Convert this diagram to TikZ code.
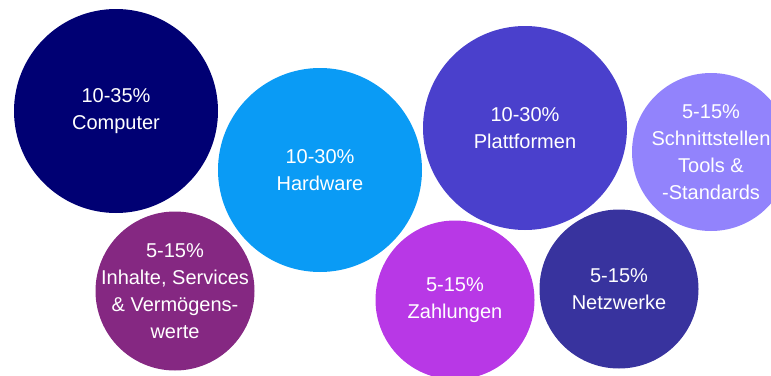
\documentclass[tikz,border=0pt]{standalone}
\usepackage{fontspec}
\setmainfont{Liberation Sans}
\usepackage{tikz}

\definecolor{navy}{HTML}{000073}
\definecolor{sky}{HTML}{0A9BF5}
\definecolor{violet}{HTML}{4A40CC}
\definecolor{lavender}{HTML}{9283FC}
\definecolor{plum}{HTML}{852882}
\definecolor{orchid}{HTML}{B838E6}
\definecolor{indigo}{HTML}{38339E}

\begin{document}
\begin{tikzpicture}[x=1pt, y=-1pt,
    bubble/.style = {circle, inner sep=-30pt, text=white, align=center,
      font=\fontsize{20}{27}\selectfont}]
    \useasboundingbox (0,0) rectangle (771,375);
    \clip (0,0) rectangle (771,375);
    \node[bubble, fill=navy, minimum size=204pt] (comp) at (116,111) {10-35\%\\Computer};
    \node[bubble, fill=sky, minimum size=204pt] (hw) at (320,170) {10-30\%\\Hardware};
    \node[bubble, fill=violet, minimum size=204pt] (plat) at (525,128) {10-30\%\\Plattformen};
    \node[bubble, fill=lavender, minimum size=158pt] (api) at (711,152) {5-15\%\\Schnittstellen\\Tools \&\\-Standards};
    \node[bubble, fill=plum, minimum size=159pt] (content) at (175,291) {5-15\%\\Inhalte, Services\\\& Vermögens-\\werte};
    \node[bubble, fill=orchid, minimum size=159pt] (pay) at (455,300) {5-15\%\\Zahlungen};
    \node[bubble, fill=indigo, minimum size=159pt] (net) at (619,289) {5-15\%\\Netzwerke};
  \end{tikzpicture}
\end{document}
